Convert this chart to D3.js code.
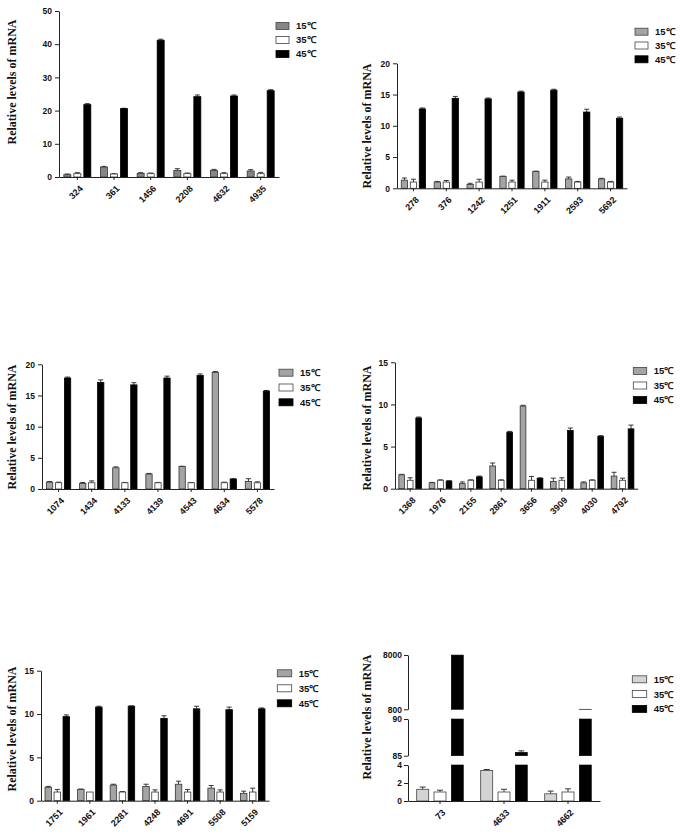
<!DOCTYPE html>
<html>
<head>
<meta charset="utf-8">
<script src="https://cdn.jsdelivr.net/npm/d3@7"></script>
<style>
  html, body { margin: 0; padding: 0; background: #fff; }
  svg { display: block; }
  .tick text { font-family: "Liberation Sans", Arial, sans-serif; font-weight: bold; font-size: 8.5px; fill: #111; }
  .xax .tick text { font-size: 9px; }
</style>
</head>
<body>
<svg id="chart" width="683" height="836"></svg>
<script>
// ---------------- data ----------------
const series = ["15℃", "35℃", "45℃"];

const p1Cats = ["324", "361", "1456", "2208", "4632", "4935"];
const p1Values = [[0.7, 1.0, 21.8], [3.0, 0.9, 20.6], [1.1, 1.0, 41.2], [2.0, 1.0, 24.2], [2.0, 1.0, 24.4], [1.8, 1.0, 26.0]];
const p1Errors = [[0.2, 0.3, 0.3], [0.2, 0.1, 0.1], [0.2, 0.2, 0.3], [0.5, 0.2, 0.5], [0.3, 0.3, 0.3], [0.4, 0.4, 0.3]];
const p1Ticks = [0, 10, 20, 30, 40, 50];

const p2Cats = ["278", "376", "1242", "1251", "1911", "2593", "5692"];
const p2Values = [[1.3, 1.0, 12.7], [1.0, 1.0, 14.4], [0.6, 1.0, 14.3], [1.9, 1.0, 15.4], [2.7, 1.0, 15.7], [1.5, 1.0, 12.2], [1.5, 1.0, 11.2]];
const p2Errors = [[0.35, 0.45, 0.15], [0.1, 0.25, 0.3], [0.2, 0.45, 0.15], [0.05, 0.3, 0.15], [0.05, 0.3, 0.15], [0.3, 0.1, 0.45], [0.1, 0.1, 0.2]];
const p2Ticks = [0, 5, 10, 15, 20];

const p3Cats = ["1074", "1434", "4133", "4139", "4543", "4634", "5578"];
const p3Values = [[1.1, 1.0, 17.8], [0.9, 1.0, 17.1], [3.4, 1.0, 16.7], [2.4, 1.0, 17.8], [3.6, 1.0, 18.2], [18.7, 1.0, 1.6], [1.2, 1.0, 15.7]];
const p3Errors = [[0.1, 0.1, 0.15], [0.15, 0.3, 0.4], [0.15, 0.05, 0.35], [0.1, 0.05, 0.3], [0.05, 0.05, 0.25], [0.15, 0.1, 0.05], [0.45, 0.15, 0.1]];
const p3Ticks = [0, 5, 10, 15, 20];

const p4Cats = ["1368", "1976", "2155", "2861", "3656", "3909", "4030", "4792"];
const p4Values = [[1.65, 1.0, 8.4], [0.7, 1.0, 0.9], [0.6, 1.0, 1.4], [2.7, 1.0, 6.7], [9.8, 1.0, 1.2], [0.85, 1.0, 6.9], [0.7, 1.0, 6.2], [1.5, 1.0, 7.1]];
const p4Errors = [[0.05, 0.3, 0.1], [0.05, 0.05, 0.05], [0.2, 0.05, 0.1], [0.35, 0.05, 0.1], [0.1, 0.45, 0.1], [0.4, 0.3, 0.3], [0.1, 0.05, 0.1], [0.45, 0.25, 0.45]];
const p4Ticks = [0, 5, 10, 15];

const p5Cats = ["1751", "1961", "2281", "4248", "4691", "5508", "5159"];
const p5Values = [[1.55, 1.0, 9.7], [1.3, 1.0, 10.8], [1.8, 1.0, 10.9], [1.65, 1.0, 9.5], [1.9, 1.0, 10.6], [1.45, 1.0, 10.5], [0.85, 1.0, 10.6]];
const p5Errors = [[0.1, 0.3, 0.2], [0.05, 0.0, 0.1], [0.1, 0.05, 0.05], [0.25, 0.25, 0.3], [0.35, 0.3, 0.3], [0.3, 0.25, 0.3], [0.25, 0.45, 0.1]];
const p5Ticks = [0, 5, 10, 15];

const p6Cats = ["73", "4633", "4662"];
const p6Values = [[1.3, 1.0, 7990], [3.4, 1.0, 85.46], [0.8, 1.0, 805]];
const p6Errors = [[0.25, 0.2, 0], [0.1, 0.3, 0.2], [0.3, 0.35, 0]];
const p6Segments = [[0, 4], [85, 90], [800, 8000]];
const p6SegTicks = [[0, 2, 4], [85, 90], [800, 8000]];

const yLabel = "Relative levels of mRNA";

// ---------------- drawing ----------------
const svg = d3.select("#chart");
svg.append("rect").attr("width", 683).attr("height", 836).attr("fill", "#fff");

const sans = '"Liberation Sans", Arial, sans-serif';
const serif = '"Liberation Serif", "Times New Roman", serif';
const axisColor = "#222";
const fmt = d3.format("d");

function innerScale(step, bw) {
  const p = 1 - bw / step;
  return d3.scaleBand().domain(series).range([-1.5 * step, 1.5 * step]).paddingInner(p).paddingOuter(p / 2);
}

function styleAxis(sel) {
  sel.selectAll("path.domain").attr("stroke", axisColor).attr("stroke-width", 1);
  sel.selectAll(".tick line").attr("stroke", axisColor).attr("stroke-width", 1);
}

function drawXAxis(g, cfg, x0) {
  const xa = g.append("g").attr("class", "xax").attr("transform", `translate(0,${cfg.y0})`)
    .call(d3.axisBottom(x0).tickSize(3).tickSizeOuter(0).tickPadding(0));
  styleAxis(xa);
  xa.selectAll(".tick text")
    .attr("text-anchor", "end")
    .attr("dy", "0")
    .attr("transform", "translate(4,10) rotate(-45)");
}

function drawLegend(g, cfg) {
  const colors = [cfg.grey, "#fff", "#000"];
  series.forEach((s, i) => {
    const cy = cfg.legY + i * cfg.legStep;
    g.append("rect").attr("x", cfg.legX).attr("y", cy - 3.5).attr("width", cfg.legW).attr("height", 7)
      .attr("fill", colors[i]).attr("stroke", i === 2 ? "#000" : "#444").attr("stroke-width", 0.8);
    g.append("text").attr("x", cfg.legX + cfg.legW + 7).attr("y", cy + 3.4)
      .attr("font-family", sans).attr("font-weight", "bold").attr("font-size", 9.5).attr("fill", "#111")
      .text(s);
  });
}

function drawYLabel(g, cfg) {
  g.append("text")
    .attr("transform", `translate(${cfg.labX},${cfg.labY}) rotate(-90)`)
    .attr("text-anchor", "middle").attr("dominant-baseline", "central")
    .attr("font-family", serif).attr("font-weight", "bold").attr("font-size", 12).attr("fill", "#111")
    .text(yLabel);
}

function barColor(cfg, i) { return i === 0 ? cfg.grey : (i === 1 ? "#fff" : "#000"); }

function drawPanel(cfg) {
  const g = svg.append("g");
  const x0 = d3.scaleBand().domain(cfg.cats).range([cfg.xl, cfg.xr]);
  const x1 = innerScale(cfg.step, cfg.bw);
  const y = d3.scaleLinear().domain([0, cfg.ticks[cfg.ticks.length - 1]]).range([cfg.y0, cfg.yTop]);

  cfg.cats.forEach((c, ci) => {
    const cx = x0(c) + x0.bandwidth() / 2;
    series.forEach((s, si) => {
      const v = cfg.values[ci][si], e = cfg.errors[ci][si];
      const bx = cx + x1(s);
      const bcx = bx + x1.bandwidth() / 2;
      if (e > 0) {
        g.append("line").attr("x1", bcx).attr("x2", bcx).attr("y1", y(v)).attr("y2", y(v + e)).attr("stroke", "#222").attr("stroke-width", 0.9);
        g.append("line").attr("x1", bcx - 2.5).attr("x2", bcx + 2.5).attr("y1", y(v + e)).attr("y2", y(v + e)).attr("stroke", "#222").attr("stroke-width", 0.9);
      }
      g.append("rect").attr("x", bx).attr("y", y(v)).attr("width", x1.bandwidth()).attr("height", y(0) - y(v))
        .attr("fill", barColor(cfg, si)).attr("stroke", si === 2 ? "#000" : "#333").attr("stroke-width", 0.8);
    });
  });

  const ya = g.append("g").attr("transform", `translate(${cfg.xl},0)`)
    .call(d3.axisLeft(y).tickValues(cfg.ticks).tickFormat(fmt).tickSize(4).tickSizeOuter(0).tickPadding(3));
  styleAxis(ya);
  drawXAxis(g, cfg, x0);
  drawLegend(g, cfg);
  drawYLabel(g, cfg);
}

function drawBrokenPanel(cfg) {
  const g = svg.append("g");
  const x0 = d3.scaleBand().domain(cfg.cats).range([cfg.xl, cfg.xr]);
  const x1 = innerScale(cfg.step, cfg.bw);
  const segScales = cfg.segments.map((d, i) => d3.scaleLinear().domain(d).range(cfg.segRanges[i]));

  cfg.cats.forEach((c, ci) => {
    const cx = x0(c) + x0.bandwidth() / 2;
    series.forEach((s, si) => {
      const v = cfg.values[ci][si], e = cfg.errors[ci][si];
      const bx = cx + x1(s);
      const bcx = bx + x1.bandwidth() / 2;
      segScales.forEach((sc, k) => {
        const [lo, hi] = cfg.segments[k];
        if (v <= lo) return;
        const top = Math.min(v, hi);
        const topE = v + e;
        if (e > 0 && v < hi) {
          const ye = sc(Math.min(topE, hi));
          g.append("line").attr("x1", bcx).attr("x2", bcx).attr("y1", sc(top)).attr("y2", ye).attr("stroke", "#222").attr("stroke-width", 0.9);
          g.append("line").attr("x1", bcx - 3).attr("x2", bcx + 3).attr("y1", ye).attr("y2", ye).attr("stroke", "#222").attr("stroke-width", 0.9);
        }
        g.append("rect").attr("x", bx).attr("y", sc(top)).attr("width", x1.bandwidth()).attr("height", Math.max(0, sc(lo) - sc(top)))
          .attr("fill", barColor(cfg, si)).attr("stroke", si === 2 ? "#000" : "#444").attr("stroke-width", si === 2 ? 0.6 : 0.8);
      });
    });
  });

  segScales.forEach((sc, k) => {
    const ya = g.append("g").attr("transform", `translate(${cfg.xl},0)`)
      .call(d3.axisLeft(sc).tickValues(cfg.segTicks[k]).tickFormat(fmt).tickSize(4).tickSizeOuter(0).tickPadding(2));
    styleAxis(ya);
  });
  drawXAxis(g, cfg, x0);
  drawLegend(g, cfg);
  drawYLabel(g, cfg);
}

const greyDark = "#868686", greyMid = "#a4a4a4", greyLight = "#d4d4d4";

drawPanel({ cats: p1Cats, values: p1Values, errors: p1Errors, ticks: p1Ticks,
  xl: 59, xr: 279, y0: 177, yTop: 11, step: 10, bw: 7, grey: greyDark,
  legX: 276, legW: 13, legY: 26, legStep: 14, labX: 12, labY: 82 });

drawPanel({ cats: p2Cats, values: p2Values, errors: p2Errors, ticks: p2Ticks,
  xl: 397, xr: 627, y0: 188.3, yTop: 63.3, step: 9, bw: 6.3, grey: greyMid,
  legX: 635, legW: 13, legY: 31.7, legStep: 13.8, labX: 367, labY: 126 });

drawPanel({ cats: p3Cats, values: p3Values, errors: p3Errors, ticks: p3Ticks,
  xl: 42, xr: 274, y0: 489, yTop: 364.3, step: 9, bw: 6.3, grey: greyMid,
  legX: 279, legW: 14, legY: 372.7, legStep: 14.8, labX: 12, labY: 427 });

drawPanel({ cats: p4Cats, values: p4Values, errors: p4Errors, ticks: p4Ticks,
  xl: 395, xr: 637.7, y0: 488.7, yTop: 362.3, step: 8.5, bw: 5.7, grey: greyMid,
  legX: 633.3, legW: 13.4, legY: 371, legStep: 14.5, labX: 367, labY: 428 });

drawPanel({ cats: p5Cats, values: p5Values, errors: p5Errors, ticks: p5Ticks,
  xl: 41, xr: 269, y0: 800.7, yTop: 670.7, step: 9, bw: 6.5, grey: greyMid,
  legX: 277.3, legW: 14.4, legY: 673.3, legStep: 15, labX: 12, labY: 729 });

drawBrokenPanel({ cats: p6Cats, values: p6Values, errors: p6Errors,
  segments: p6Segments, segTicks: p6SegTicks,
  segRanges: [[801, 765], [755.7, 719], [709.3, 655]],
  xl: 408, xr: 600, y0: 801, step: 17.3, bw: 12, grey: greyLight,
  legX: 632.3, legW: 14.4, legY: 679.3, legStep: 14.8, labX: 367, labY: 717 });
</script>
</body>
</html>
